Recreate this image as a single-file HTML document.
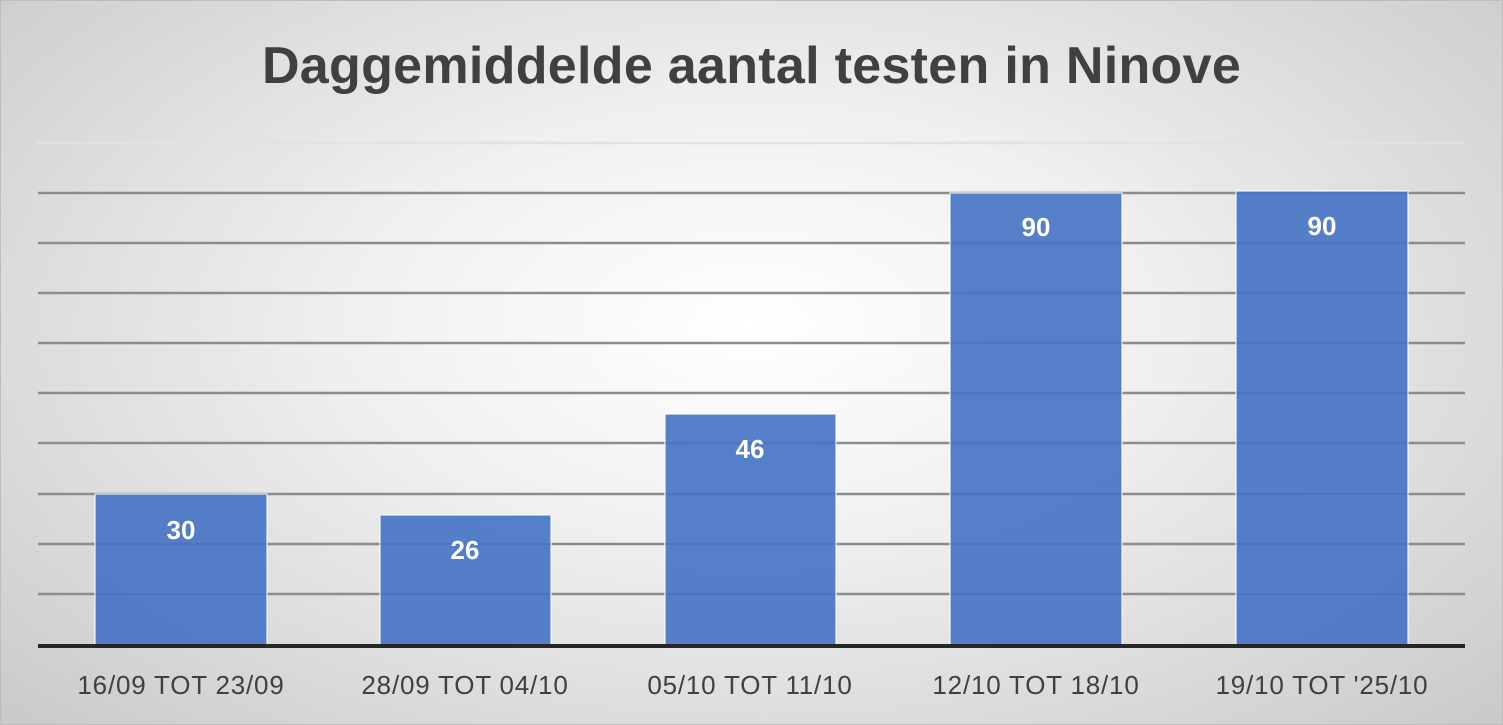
<!DOCTYPE html>
<html><head><style>
html,body{margin:0;padding:0}
body{width:1503px;height:725px;overflow:hidden;background:radial-gradient(ellipse 75% 85% at 50% 45%,#ffffff 0%,#f0f0f0 35%,#d2d2d2 80%,#c4c4c4 100%);font-family:"Liberation Sans",sans-serif;position:relative}
.t{position:absolute;left:0;width:1503px;top:36px;text-align:center;font-size:52px;font-weight:bold;color:#404040;letter-spacing:0.3px}
</style></head><body>
<div class="t">Daggemiddelde aantal testen in Ninove</div>
<svg width="1503" height="725" style="position:absolute;left:0;top:0">
<rect x="0.5" y="0.5" width="1502" height="724" fill="none" stroke="#bdbdbd"/>
<g stroke="#8c8c8c" stroke-width="2.5">
<line x1="38" x2="1465" y1="143" y2="143" stroke="#e2e2e2"/>
<line x1="38" x2="1465" y1="193" y2="193"/>
<line x1="38" x2="1465" y1="243" y2="243"/>
<line x1="38" x2="1465" y1="293" y2="293"/>
<line x1="38" x2="1465" y1="343" y2="343"/>
<line x1="38" x2="1465" y1="393" y2="393"/>
<line x1="38" x2="1465" y1="443" y2="443"/>
<line x1="38" x2="1465" y1="494" y2="494"/>
<line x1="38" x2="1465" y1="544" y2="544"/>
<line x1="38" x2="1465" y1="594" y2="594"/>
</g>
<g fill="#4472c4" fill-opacity="0.9" stroke="#ffffff" stroke-opacity="0.7" stroke-width="1.5">
<rect x="95" y="494" width="172" height="151"/>
<rect x="380" y="515" width="171" height="130"/>
<rect x="665" y="414" width="171" height="231"/>
<rect x="950" y="193" width="172" height="452"/>
<rect x="1236" y="191" width="172" height="454"/>
</g>
<line x1="38" x2="1465" y1="646" y2="646" stroke="#262626" stroke-width="4"/>
<g fill="#fff" font-weight="bold" font-size="26" text-anchor="middle">
<text x="181" y="539">30</text>
<text x="465" y="559">26</text>
<text x="750" y="458">46</text>
<text x="1036" y="236">90</text>
<text x="1322" y="235">90</text>
</g>
<g fill="#404040" font-size="26" text-anchor="middle" letter-spacing="0.8">
<text x="181" y="694">16/09 TOT 23/09</text>
<text x="465" y="694">28/09 TOT 04/10</text>
<text x="750" y="694">05/10 TOT 11/10</text>
<text x="1036" y="694">12/10 TOT 18/10</text>
<text x="1322" y="694">19/10 TOT '25/10</text>
</g>
</svg>
</body></html>
